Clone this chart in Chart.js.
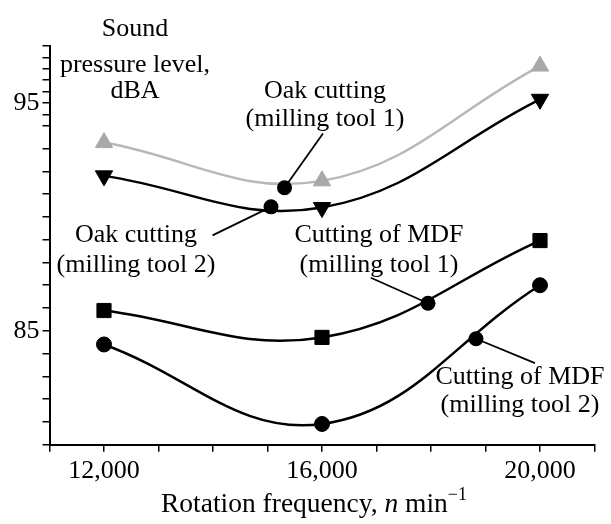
<!DOCTYPE html>
<html>
<head>
<meta charset="utf-8">
<script src="https://cdn.jsdelivr.net/npm/chart.js@4.4.0/dist/chart.umd.min.js"></script>
<style>
html, body { margin: 0; padding: 0; background: #fff; }
#graph { display: block; }
</style>
</head>
<body>
<canvas id="graph" width="611" height="524"></canvas>
<script>
const rpm = [12000, 16000, 20000];
const oakTool1 = [93.26, 91.58, 96.62];
const oakTool2 = [91.8, 90.41, 95.16];
const mdfTool1 = [85.89, 84.71, 88.96];
const mdfTool2 = [84.4, 80.91, 87.0];
const xTickLabels = ['12,000', '16,000', '20,000'];
const xTickMarks = [11000, 12000, 13000, 14000, 15000, 16000, 17000, 18000, 19000, 20000, 21000];
const yTickLabels = [85, 95];
const yTickMarks = [80, 81, 82, 83, 84, 85, 86, 87, 88, 89, 90, 91, 92, 93, 94, 94.5, 95, 95.5, 96, 96.5, 97, 97.5];

// callouts: text lines, text anchor (x, baselines), leader start, dot on curve
const callouts = [
  { lines: ['Oak cutting', '(milling tool 1)'], tx: 16055, ty: [95.23, 93.99], from: [16018, 93.66], dot: [15312, 91.28] },
  { lines: ['Oak cutting', '(milling tool 2)'], tx: 12587, ty: [88.88, 87.57], from: [13991, 89.19], dot: [15064, 90.44] },
  { lines: ['Cutting of MDF', '(milling tool 1)'], tx: 17046, ty: [88.88, 87.57], from: [16896, 87.33], dot: [17945, 86.21] },
  { lines: ['Cutting of MDF', '(milling tool 2)'], tx: 19633, ty: [82.68, 81.43], from: [19908, 83.58], dot: [18826, 84.65] }
];

const FONT = '"Liberation Serif", "Times New Roman", serif';

function pts(vals) {
  return rpm.map((x, i) => ({ x: x, y: vals[i] }));
}

const annotate = {
  id: 'annotate',
  afterDatasetsDraw(chart) {
    const ctx = chart.ctx;
    const xs = chart.scales.x, ys = chart.scales.y;
    ctx.save();
    ctx.fillStyle = '#000';
    ctx.strokeStyle = '#000';
    ctx.font = '26px ' + FONT;
    ctx.textAlign = 'center';
    ctx.textBaseline = 'alphabetic';
    callouts.forEach(c => {
      const dx = xs.getPixelForValue(c.dot[0]), dy = ys.getPixelForValue(c.dot[1]);
      ctx.lineWidth = 1.8;
      ctx.beginPath();
      ctx.moveTo(xs.getPixelForValue(c.from[0]), ys.getPixelForValue(c.from[1]));
      ctx.lineTo(dx, dy);
      ctx.stroke();
      ctx.beginPath();
      ctx.arc(dx, dy, 7.5, 0, Math.PI * 2);
      ctx.fill();
      c.lines.forEach((t, i) => {
        ctx.fillText(t, xs.getPixelForValue(c.tx), ys.getPixelForValue(c.ty[i]));
      });
    });

    // y axis title
    ['Sound', 'pressure level,', 'dBA'].forEach((t, i) => {
      ctx.fillText(t, 135, [36, 71.7, 98.3][i]);
    });

    // x axis title with italic n and superscript
    const parts = [
      ['Rotation frequency, ', '27.5px ' + FONT, 0],
      ['n', 'italic 27.5px ' + FONT, 0],
      [' min', '27.5px ' + FONT, 0],
      ['\u22121', '18px ' + FONT, -12]
    ];
    let total = 0;
    parts.forEach(p => { ctx.font = p[1]; total += ctx.measureText(p[0]).width; });
    let px = 314 - total / 2;
    ctx.textAlign = 'left';
    parts.forEach(p => {
      ctx.font = p[1];
      ctx.fillText(p[0], px, 512 + p[2]);
      px += ctx.measureText(p[0]).width;
    });
    ctx.restore();
  }
};

const ctx = document.getElementById('graph').getContext('2d');

new Chart(ctx, {
  type: 'line',
  data: {
    datasets: [
      {
        label: 'Oak cutting (milling tool 1)',
        data: pts(oakTool1),
        borderColor: '#b8b8b8',
        borderWidth: 2.5,
        pointStyle: 'triangle',
        pointRadius: 10,
        pointBackgroundColor: '#a8a8a8',
        pointBorderColor: '#a8a8a8',
        pointBorderWidth: 1,
        tension: 0.4
      },
      {
        label: 'Oak cutting (milling tool 2)',
        data: pts(oakTool2),
        borderColor: '#000',
        borderWidth: 2.5,
        pointStyle: 'triangle',
        rotation: 180,
        pointRadius: 10,
        pointBackgroundColor: '#000',
        pointBorderColor: '#000',
        pointBorderWidth: 1,
        tension: 0.4
      },
      {
        label: 'Cutting of MDF (milling tool 1)',
        data: pts(mdfTool1),
        borderColor: '#000',
        borderWidth: 2.5,
        pointStyle: 'rect',
        pointRadius: 10,
        pointBackgroundColor: '#000',
        pointBorderColor: '#000',
        pointBorderWidth: 1,
        tension: 0.4
      },
      {
        label: 'Cutting of MDF (milling tool 2)',
        data: pts(mdfTool2),
        borderColor: '#000',
        borderWidth: 2.5,
        pointStyle: 'circle',
        pointRadius: 7.5,
        pointBackgroundColor: '#000',
        pointBorderColor: '#000',
        pointBorderWidth: 1,
        tension: 0.4
      }
    ]
  },
  options: {
    responsive: false,
    animation: false,
    layout: { padding: { top: 46, right: 16.5, left: 0, bottom: 0 } },
    plugins: {
      legend: { display: false },
      tooltip: { enabled: false }
    },
    scales: {
      x: {
        type: 'linear',
        min: 11000,
        max: 21000,
        afterBuildTicks: s => { s.ticks = xTickMarks.map(v => ({ value: v })); },
        afterFit: s => { s.height = 79.3; },
        ticks: {
          autoSkip: false,
          maxRotation: 0,
          padding: 4,
          color: '#000',
          font: { family: FONT, size: 26 },
          callback: v => {
            const i = rpm.indexOf(v);
            return i < 0 ? '' : xTickLabels[i];
          }
        },
        grid: { drawOnChartArea: false, tickLength: 7, color: '#000', lineWidth: 1.5 },
        border: { color: '#000', width: 2 }
      },
      y: {
        min: 80,
        max: 97.5,
        afterBuildTicks: s => { s.ticks = yTickMarks.map(v => ({ value: v })); },
        afterFit: s => { s.width = 49.5; },
        ticks: {
          autoSkip: false,
          padding: 3,
          color: '#000',
          font: { family: FONT, size: 26 },
          callback: v => yTickLabels.includes(v) ? String(v) : ''
        },
        grid: { drawOnChartArea: false, tickLength: 7, color: '#000', lineWidth: 1.5 },
        border: { color: '#000', width: 2 }
      }
    }
  },
  plugins: [annotate]
});
</script>
</body>
</html>
